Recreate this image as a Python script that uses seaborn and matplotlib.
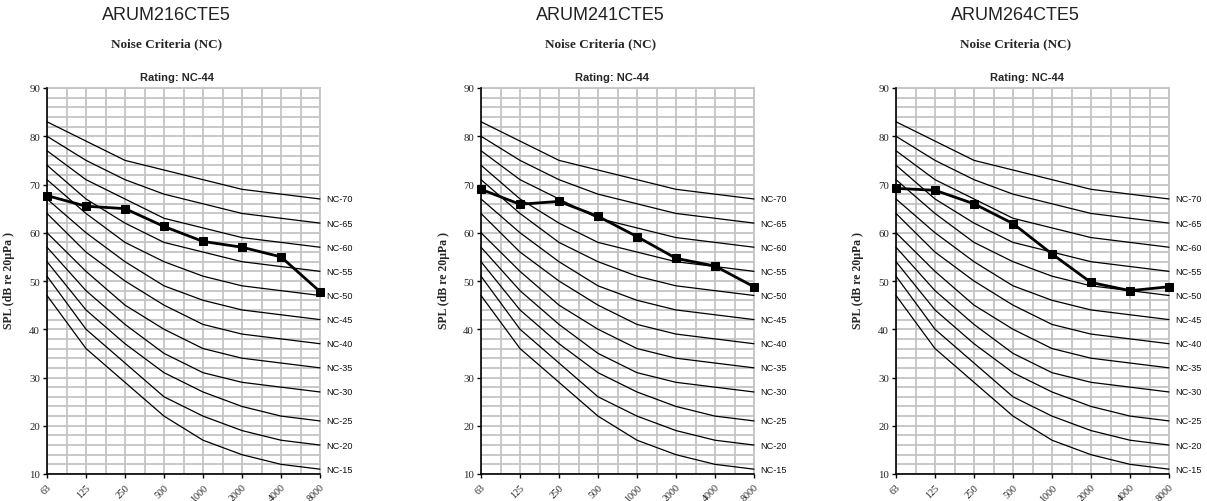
import numpy as np
import pandas as pd
import matplotlib
matplotlib.use('Agg')
import matplotlib.pyplot as plt
import seaborn as sns

# octave bands (Hz)
bands = ['63', '125', '250', '500', '1000', '2000', '4000', '8000']

# NC reference curves
nc_names = ['NC-15', 'NC-20', 'NC-25', 'NC-30', 'NC-35', 'NC-40',
            'NC-45', 'NC-50', 'NC-55', 'NC-60', 'NC-65', 'NC-70']
nc15 = [47, 36, 29, 22, 17, 14, 12, 11]
nc20 = [51, 40, 33, 26, 22, 19, 17, 16]
nc25 = [54, 44, 37, 31, 27, 24, 22, 21]
nc30 = [57, 48, 41, 35, 31, 29, 28, 27]
nc35 = [60, 52, 45, 40, 36, 34, 33, 32]
nc40 = [64, 56, 50, 45, 41, 39, 38, 37]
nc45 = [67, 60, 54, 49, 46, 44, 43, 42]
nc50 = [71, 64, 58, 54, 51, 49, 48, 47]
nc55 = [74, 67, 62, 58, 56, 54, 53, 52]
nc60 = [77, 71, 67, 63, 61, 59, 58, 57]
nc65 = [80, 75, 71, 68, 66, 64, 63, 62]
nc70 = [83, 79, 75, 73, 71, 69, 68, 67]
nc_curves = [nc15, nc20, nc25, nc30, nc35, nc40, nc45, nc50, nc55, nc60, nc65, nc70]

# measured spectra per model
models = ['ARUM216CTE5', 'ARUM241CTE5', 'ARUM264CTE5']
ratings = ['Rating: NC-44', 'Rating: NC-44', 'Rating: NC-44']
spl_216 = [67.7, 65.5, 65.0, 61.3, 58.2, 57.0, 55.0, 47.8]
spl_241 = [69.0, 65.9, 66.5, 63.4, 59.2, 54.7, 53.1, 48.8]
spl_264 = [69.2, 68.8, 66.0, 61.9, 55.6, 49.7, 48.0, 48.8]
spectra = [spl_216, spl_241, spl_264]

sns.set_theme(style='white')
plt.rcParams['font.family'] = ['Liberation Sans', 'DejaVu Sans']

W, H = 1207, 502
fig = plt.figure(figsize=(W / 100, H / 100), dpi=100)
fig.patch.set_facecolor('white')

ax_left = [47, 481, 896]
ax_w = 273
ax_top, ax_bot = 89, 475
grid_col = '#c4c4c4'
serif = ['Liberation Serif', 'DejaVu Serif']

pos = np.arange(len(bands))

for i, model in enumerate(models):
    ax = fig.add_axes([ax_left[i] / W, 1 - ax_bot / H, ax_w / W, (ax_bot - ax_top) / H])
    ax.set_facecolor('white')

    for name, curve in zip(nc_names, nc_curves):
        df = pd.DataFrame({'band': pos, 'spl': curve})
        sns.lineplot(data=df, x='band', y='spl', ax=ax, color='black', lw=0.9,
                     zorder=3, clip_on=False)
        ax.text(7 + 0.17, curve[-1], name, fontsize=6.6, va='center', ha='left',
                color='#111111')

    dfm = pd.DataFrame({'band': pos, 'spl': spectra[i]})
    sns.lineplot(data=dfm, x='band', y='spl', ax=ax, color='black', lw=2.0,
                 marker='s', markersize=5.5, markeredgecolor='black',
                 zorder=5, clip_on=False)

    ax.set_xlim(0, 7)
    ax.set_ylim(10, 90)
    ax.set_xticks(pos)
    ax.set_xticklabels(bands, rotation=45, ha='right', va='top',
                       rotation_mode='anchor', family=serif, fontsize=7.2)
    ax.set_yticks(range(10, 91, 10))
    ax.set_yticklabels([str(v) for v in range(10, 91, 10)], family=serif, fontsize=7.8)
    ax.set_xticks(np.arange(0, 7.01, 0.5), minor=True)
    ax.set_yticks(range(10, 91, 2), minor=True)
    ax.grid(which='both', color=grid_col, lw=1.3)
    ax.set_axisbelow(True)
    ax.tick_params(which='minor', length=0)
    ax.tick_params(which='major', direction='out', length=3, width=1, color='black',
                   pad=2, left=True, bottom=True)
    ax.tick_params(axis='x', pad=3)
    for s in ['left', 'bottom']:
        ax.spines[s].set_color('black')
        ax.spines[s].set_linewidth(1.2)
        ax.spines[s].set_zorder(6)
    for s in ['top', 'right']:
        ax.spines[s].set_color(grid_col)
        ax.spines[s].set_linewidth(1.3)

    ax.set_xlabel('')
    ax.set_ylabel('SPL (dB re 20µPa )', family=serif, fontweight='bold', fontsize=8.5)
    ax.yaxis.set_label_coords(-31.5 / ax_w, 0.505)

    cx = ax_left[i] + ax_w / 2
    fig.text((cx - 17.5) / W, 1 - 16 / H, model, ha='center', va='center',
             fontsize=13, color='#222222')
    fig.text((cx - 17) / W, 1 - 44 / H, 'Noise Criteria (NC)', ha='center', va='center',
             fontsize=9.5, fontweight='bold', family=serif)
    fig.text((cx - 6) / W, 1 - 78 / H, ratings[i], ha='center', va='center',
             fontsize=8, fontweight='bold')

fig.savefig('out.png', dpi=100, facecolor='white')
